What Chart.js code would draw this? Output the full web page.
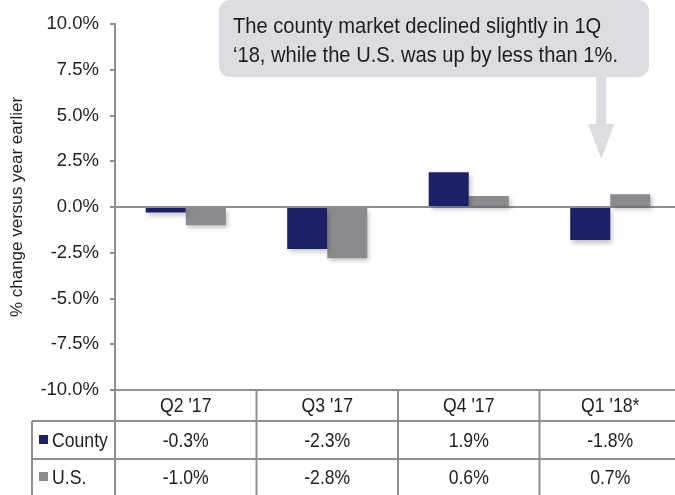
<!DOCTYPE html>
<html><head><meta charset="utf-8">
<style>
html,body{margin:0;padding:0;overflow:hidden;background:#fff;width:675px;height:495px}
#wrap{width:690px;height:495px;position:relative}
</style>
<script src="https://cdn.jsdelivr.net/npm/chart.js@4"></script>
</head><body><div id="wrap"><canvas id="c" width="690" height="495"></canvas></div>
<script>
const categories = ["Q2 '17", "Q3 '17", "Q4 '17", "Q1 '18*"];
const countyValues = [-0.3, -2.3, 1.9, -1.8];
const usValues = [-1.0, -2.8, 0.6, 0.7];
const seriesNames = ["County", "U.S."];
const yMin = -10, yMax = 10, yStep = 2.5;
const yTitle = "% change versus year earlier";
const calloutLines = ["The county market declined slightly in 1Q", "\u201818, while the U.S. was up by less than 1%."];
const calloutTarget = {index: 3};

const NAVY = '#1b2166', GRAY = '#898b8e', LINE = '#8f8f8f', TEXT = '#1e1e1e', CALLOUT = '#dcdde0';
const fmt = v => v.toFixed(1) + '%';

// condensed text: real text, horizontally compressed
function drawText(ctx, text, x, y, font, sx, align, baseline) {
  ctx.save();
  ctx.font = font; ctx.textAlign = align; ctx.textBaseline = baseline;
  ctx.translate(x, y); ctx.scale(sx, 1);
  ctx.fillText(text, 0, 0);
  ctx.restore();
}

const shadowPlugin = {
  id: 'shadow',
  beforeDatasetsDraw(chart) {
    const ctx = chart.ctx; ctx.save();
    ctx.shadowColor = 'rgba(0,0,0,0.25)'; ctx.shadowBlur = 5; ctx.shadowOffsetX = 2; ctx.shadowOffsetY = 3;
  },
  afterDatasetsDraw(chart) { chart.ctx.restore(); }
};

const TABLE_FONT = '21px "Liberation Sans"', TABLE_SX = 0.84;

const tablePlugin = {
  id: 'table',
  afterDraw(chart) {
    const ctx = chart.ctx, x = chart.scales.x, area = chart.chartArea;
    const left = area.left, right = area.right, bottom = area.bottom;
    const row1 = 421, row2 = 459, end = 495, legendLeft = 32;
    const n = categories.length, w = (right - left) / n;
    ctx.save();
    ctx.strokeStyle = LINE; ctx.lineWidth = 2;
    ctx.beginPath();
    ctx.moveTo(left, bottom); ctx.lineTo(right + 2, bottom);
    ctx.moveTo(legendLeft, row1); ctx.lineTo(right + 2, row1);
    ctx.moveTo(legendLeft, row2); ctx.lineTo(right + 2, row2);
    ctx.moveTo(legendLeft, row1); ctx.lineTo(legendLeft, end);
    ctx.moveTo(left, bottom - 1); ctx.lineTo(left, end);
    for (let i = 1; i <= n; i++) {
      const bx = left + i * w;
      ctx.moveTo(bx, bottom); ctx.lineTo(bx, end);
    }
    ctx.stroke();
    ctx.fillStyle = TEXT;
    const rows = [countyValues, usValues];
    categories.forEach((c, i) => {
      const cx = x.getPixelForValue(i);
      drawText(ctx, c, cx, (bottom + row1) / 2 + 1, TABLE_FONT, TABLE_SX, 'center', 'middle');
      drawText(ctx, fmt(rows[0][i]), cx, (row1 + row2) / 2 + 1, TABLE_FONT, TABLE_SX, 'center', 'middle');
      drawText(ctx, fmt(rows[1][i]), cx, (row2 + end) / 2 + 1, TABLE_FONT, TABLE_SX, 'center', 'middle');
    });
    const colors = [NAVY, GRAY];
    const rowMid = [(row1 + row2) / 2, (row2 + end) / 2];
    seriesNames.forEach((s, k) => {
      ctx.fillStyle = colors[k];
      ctx.fillRect(39, rowMid[k] - 5, 9, 9);
      ctx.fillStyle = TEXT;
      drawText(ctx, s, 52, rowMid[k] + 1, TABLE_FONT, TABLE_SX, 'left', 'middle');
    });
    ctx.restore();
  }
};

const calloutPlugin = {
  id: 'callout',
  afterDraw(chart) {
    const ctx = chart.ctx;
    const bx = 219, by = 0, bw = 430, bh = 77, r = 11;
    ctx.save();
    ctx.fillStyle = CALLOUT;
    ctx.beginPath();
    ctx.roundRect(bx, by, bw, bh, r);
    ctx.fill();
    const meta = chart.getDatasetMeta(0).data[calloutTarget.index];
    const ax = meta.x + 11;
    ctx.fillRect(ax - 5, by + bh, 10, 48);
    ctx.beginPath();
    ctx.moveTo(ax - 13, 124); ctx.lineTo(ax + 13, 124); ctx.lineTo(ax, 159); ctx.closePath();
    ctx.fill();
    ctx.fillStyle = TEXT;
    const f = '22.5px "Liberation Sans"';
    drawText(ctx, calloutLines[0], 233, 33, f, 0.895, 'left', 'alphabetic');
    drawText(ctx, calloutLines[1], 233, 62, f, 0.895, 'left', 'alphabetic');
    ctx.restore();
  }
};

new Chart(document.getElementById('c'), {
  type: 'bar',
  data: {
    labels: categories,
    datasets: [
      {label: seriesNames[0], data: countyValues, backgroundColor: NAVY, borderWidth: 0, categoryPercentage: 0.566, barPercentage: 1},
      {label: seriesNames[1], data: usValues, backgroundColor: GRAY, borderWidth: 0, categoryPercentage: 0.566, barPercentage: 1}
    ]
  },
  options: {
    responsive: false,
    animation: false,
    devicePixelRatio: 1,
    layout: {padding: {left: 0, top: 24, right: 9, bottom: 105}},
    plugins: {legend: {display: false}, tooltip: {enabled: false}},
    scales: {
      x: {display: false},
      y: {
        min: yMin, max: yMax,
        afterFit(scale) { scale.width = 115; },
        ticks: {stepSize: yStep, callback: v => fmt(v), color: TEXT, font: {family: '"Liberation Sans"', size: 18.5}, padding: 11},
        grid: {
          color: c => (c.tick && c.tick.value === 0) ? LINE : 'rgba(0,0,0,0)',
          tickColor: LINE, tickLength: 5, lineWidth: 2
        },
        border: {display: true, color: LINE, width: 2},
        title: {display: true, text: yTitle, color: TEXT, font: {family: '"Liberation Sans"', size: 17}, padding: {top: 7, bottom: 0}}
      }
    }
  },
  plugins: [shadowPlugin, tablePlugin, calloutPlugin]
});
</script>
</body></html>
